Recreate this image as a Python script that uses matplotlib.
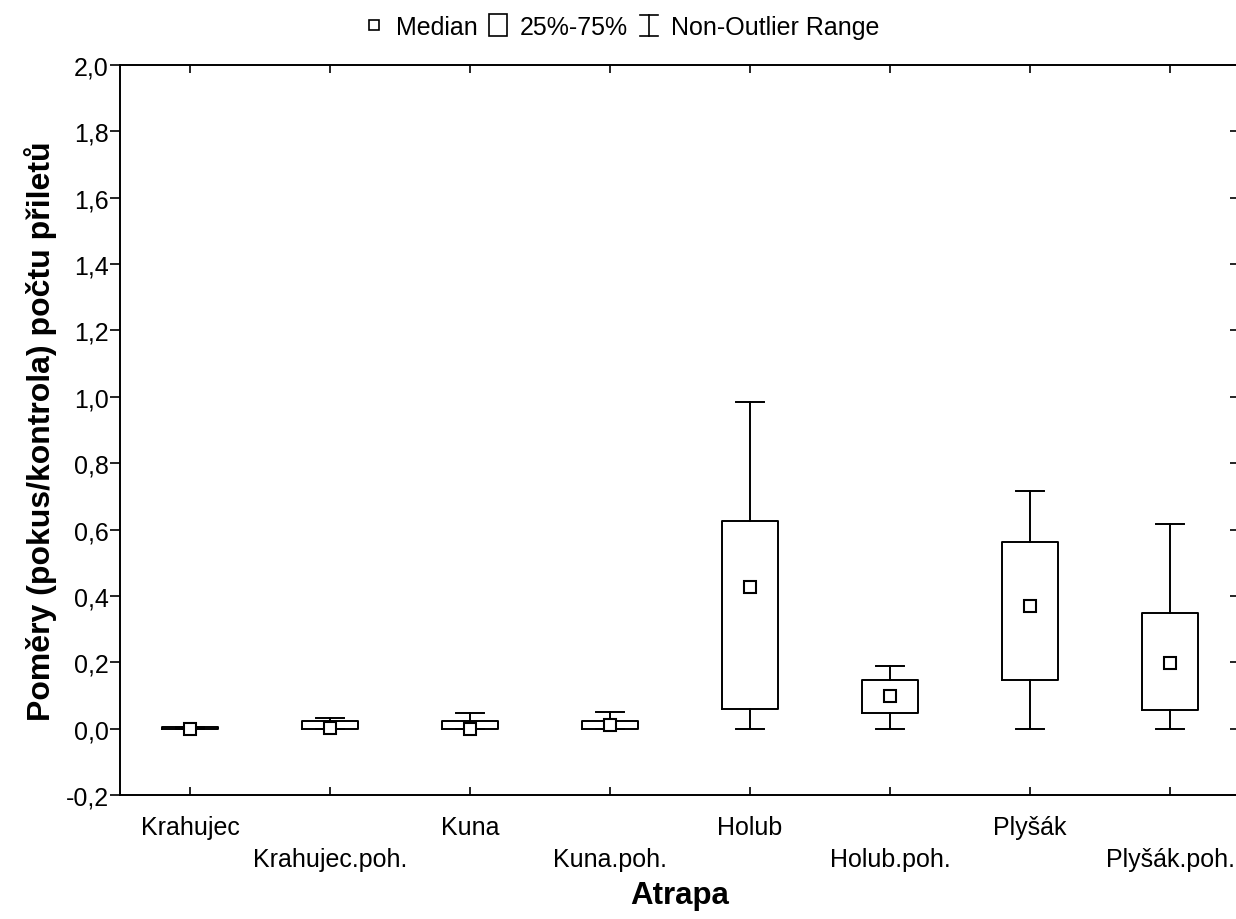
import matplotlib
matplotlib.use("Agg")
import matplotlib.pyplot as plt
from matplotlib.lines import Line2D
from matplotlib.patches import Rectangle
from matplotlib.legend_handler import HandlerBase

plt.rcParams['font.family'] = ['Liberation Sans', 'DejaVu Sans']

categories = ['Krahujec', 'Krahujec.poh.', 'Kuna', 'Kuna.poh.',
              'Holub', 'Holub.poh.', 'Plyšák', 'Plyšák.poh.']
medians = [0.0, 0.001, 0.0, 0.010, 0.428, 0.097, 0.370, 0.198]
q1 = [0.0, 0.0, 0.0, 0.0, 0.060, 0.046, 0.148, 0.055]
q3 = [0.005, 0.023, 0.022, 0.023, 0.625, 0.146, 0.562, 0.347]
whis_lo = [0.0, 0.0, 0.0, 0.0, 0.0, 0.0, 0.0, 0.0]
whis_hi = [0.005, 0.033, 0.047, 0.051, 0.984, 0.189, 0.715, 0.617]

yticks = [-0.2, 0.0, 0.2, 0.4, 0.6, 0.8, 1.0, 1.2, 1.4, 1.6, 1.8, 2.0]
ytick_labels = ['-0,2', '0,0', '0,2', '0,4', '0,6', '0,8', '1,0',
                '1,2', '1,4', '1,6', '1,8', '2,0']

LW = 1.4

fig = plt.figure(figsize=(12.36, 9.2), dpi=100)
ax = fig.add_axes([120/1236, 124/920, 1120/1236, 730/920])

pos = list(range(len(categories)))
stats = []
for i in pos:
    stats.append(dict(med=medians[i], q1=q1[i], q3=q3[i],
                      whislo=whis_lo[i], whishi=whis_hi[i], fliers=[]))

line = dict(color='black', linewidth=LW)
ax.bxp(stats, positions=pos, widths=0.4, capwidths=0.2,
       boxprops=line, whiskerprops=line, capprops=line,
       medianprops=dict(visible=False), showfliers=False)
ax.plot(pos, medians, 's', ms=9, mfc='white', mec='black', mew=1.5,
        zorder=5)

ax.set_xlim(-0.5, 7.5)
ax.set_ylim(-0.2, 2.0)
ax.set_yticks(yticks)
ax.set_yticklabels(ytick_labels, fontsize=18)
ax.set_xticks(pos)
ax.set_xticklabels([c if i % 2 == 0 else '\n' + c
                    for i, c in enumerate(categories)], fontsize=18)
for t in ax.get_xticklabels():
    t.set_linespacing(1.4)

ax.tick_params(axis='x', direction='in', top=True, length=6, width=1.2,
               pad=14.5)
ax.tick_params(axis='y', direction='out', length=7, width=1.2, pad=1)
sec = ax.secondary_yaxis('right')
sec.set_yticks(yticks)
sec.set_yticklabels([])
sec.tick_params(direction='in', length=7, width=1.2)

for s in ax.spines.values():
    s.set_linewidth(1.4)

ax.set_xlabel('Atrapa', fontsize=22.5, fontweight='bold')
ax.xaxis.set_label_coords(0.5, -0.116)
ax.set_ylabel('Poměry (pokus/kontrola) počtu přiletů', fontsize=23,
              fontweight='bold')
ax.yaxis.set_label_coords(-0.056, 0.5)


class BoxHandler(HandlerBase):
    def create_artists(self, legend, orig_handle, xdescent, ydescent,
                       width, height, fontsize, trans):
        w, h = 0.72 * fontsize, 0.88 * fontsize
        cx = width / 2 - xdescent
        cy = height / 2 - ydescent
        r = Rectangle((cx - w/2, cy - h/2), w, h, facecolor='white',
                      edgecolor='black', lw=1.2, transform=trans)
        return [r]


class WhiskerHandler(HandlerBase):
    def create_artists(self, legend, orig_handle, xdescent, ydescent,
                       width, height, fontsize, trans):
        w, h = 0.7 * fontsize, 0.84 * fontsize
        cx = width / 2 - xdescent
        cy = height / 2 - ydescent
        kw = dict(color='black', lw=1.2, transform=trans)
        return [Line2D([cx, cx], [cy - h/2, cy + h/2], **kw),
                Line2D([cx - w/2, cx + w/2], [cy + h/2, cy + h/2], **kw),
                Line2D([cx - w/2, cx + w/2], [cy - h/2, cy - h/2], **kw)]


median_h = Line2D([], [], marker='s', ls='none', ms=7, mfc='white',
                  mec='black', mew=1.2)
box_h = Rectangle((0, 0), 1, 1)
whisk_h = Line2D([], [])
fig.legend([median_h, box_h, whisk_h],
           ['Median', '25%-75%', 'Non-Outlier Range'],
           handler_map={Rectangle: BoxHandler(), whisk_h: WhiskerHandler()},
           loc='center', bbox_to_anchor=(0.502, 1 - 28/920), ncol=3,
           frameon=False, fontsize=18, handlelength=1.0,
           handletextpad=0.37, columnspacing=0.32, borderpad=0)

fig.savefig('out.png', dpi=100)
